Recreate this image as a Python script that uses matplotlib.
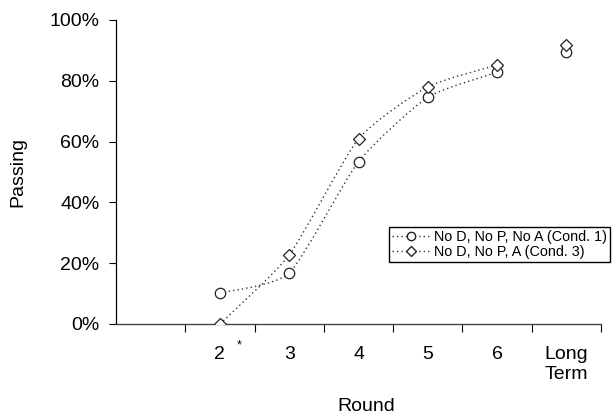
import numpy as np
import matplotlib
matplotlib.use('Agg')
import matplotlib.pyplot as plt
from matplotlib.path import Path
from matplotlib.patches import PathPatch
from matplotlib.lines import Line2D

plt.rcParams['font.family'] = ['Liberation Sans', 'DejaVu Sans']

# data
rounds = ['2', '3', '4', '5', '6', 'Long\nTerm']
xpos = [2, 3, 4, 5, 6, 7]
cond1 = [10.2, 16.8, 53.4, 74.6, 82.8, 89.6]   # No D, No P, No A (Cond. 1)
cond3 = [0.0, 22.7, 60.9, 78.0, 85.2, 91.8]    # No D, No P, A (Cond. 3)
n_smooth = 5  # rounds 2..6 are joined by the line, long term stands alone


def smooth_path(x, y, k=10):
    # smoothed line: cubic bezier through the points (weak tension)
    pts = np.column_stack([x, y]).astype(float)
    verts = [pts[0]]
    codes = [Path.MOVETO]
    for i in range(len(pts) - 1):
        p0 = pts[i - 1] if i > 0 else pts[i]
        p1 = pts[i]
        p2 = pts[i + 1]
        p3 = pts[i + 2] if i + 2 < len(pts) else pts[i + 1]
        verts += [p1 + (p2 - p0) / k, p2 - (p3 - p1) / k, p2]
        codes += [Path.CURVE4] * 3
    return Path(verts, codes)


fig = plt.figure(figsize=(6.15, 4.18), dpi=100)
ax = fig.add_axes([116/615, 1-324/418, 485/615, 304/418])

ls = (0, (1, 2.2))
for ys in (cond1, cond3):
    p = smooth_path(xpos[:n_smooth], ys[:n_smooth])
    ax.add_patch(PathPatch(p, fill=False, edgecolor='#333333', lw=1.0, linestyle=ls))

ax.plot(xpos, cond1, linestyle='none', marker='o', ms=7.5, mfc='white', mec='#222222', mew=0.9, zorder=3)
ax.plot(xpos, cond3, linestyle='none', marker='D', ms=6, mfc='white', mec='#222222', mew=0.9, zorder=3)

ax.set_xlim(0.5, 7.5)
ax.set_ylim(0, 100)
ax.set_yticks([0, 20, 40, 60, 80, 100])
ax.set_yticklabels(['0%', '20%', '40%', '60%', '80%', '100%'])
ax.set_xticks(np.arange(1.5, 8, 1))
ax.set_xticklabels([])
ax.set_xticks(xpos, minor=True)
ax.set_xticklabels(rounds, minor=True)
ax.tick_params(axis='x', which='major', length=6, width=0.8, direction='out')
ax.tick_params(axis='x', which='minor', length=0, pad=16, labelsize=14)
ax.tick_params(axis='y', length=5, width=0.8, pad=7, labelsize=14)
ax.annotate('*', xy=(2, 0), xycoords=('data', 'axes fraction'),
            xytext=(12, -17.5), textcoords='offset points', fontsize=9)

for s in ['top', 'right']:
    ax.spines[s].set_visible(False)
ax.spines['left'].set_linewidth(0.9)
ax.spines['bottom'].set_linewidth(1.0)
ax.spines['bottom'].set_color('#444444')

ax.set_xlabel('Round', fontsize=14)
ax.xaxis.set_label_coords((366-116)/485, -0.245)
ax.set_ylabel('Passing', fontsize=14)
ax.yaxis.set_label_coords(-(116-26)/485, 0.5)

handles = [
    Line2D([], [], color='#333333', lw=1.0, linestyle=ls, marker='o', ms=6, mfc='white', mec='#222222'),
    Line2D([], [], color='#333333', lw=1.0, linestyle=ls, marker='D', ms=5, mfc='white', mec='#222222'),
]
labels = ['No D, No P, No A (Cond. 1)', 'No D, No P, A (Cond. 3)']
fig.legend(handles, labels, loc='upper left', bbox_to_anchor=(389/615, 1-227/418),
           borderaxespad=0, fontsize=10.4, frameon=True, fancybox=False, edgecolor='black',
           framealpha=1, handlelength=2.6, handletextpad=0.3, labelspacing=0.1,
           borderpad=0.2)

fig.savefig('out.png', dpi=100)
